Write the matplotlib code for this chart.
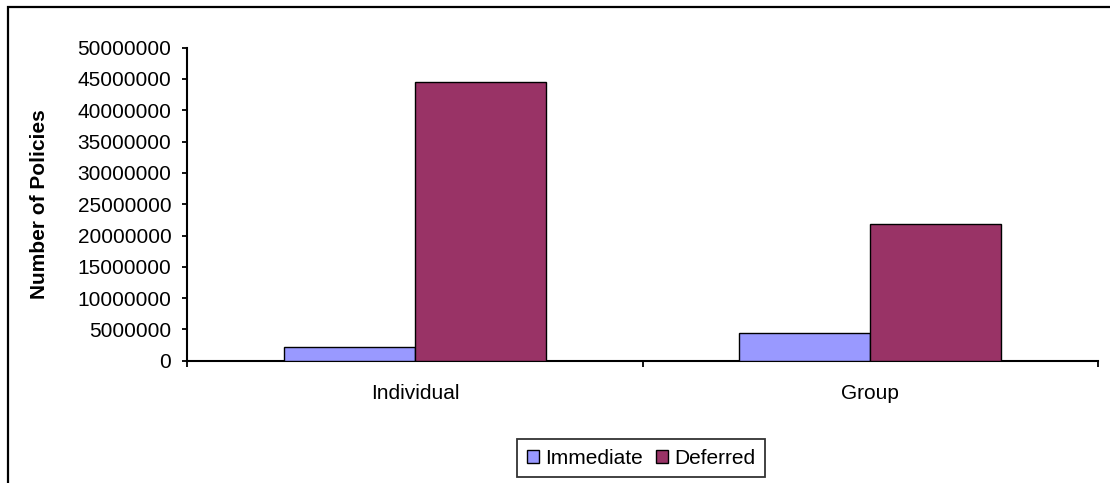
import matplotlib
matplotlib.use("Agg")
import matplotlib.pyplot as plt
from matplotlib.patches import Rectangle, Patch
import numpy as np

plt.rcParams['font.family'] = ['Liberation Sans', 'DejaVu Sans']

categories = ["Individual", "Group"]
series_names = ["Immediate", "Deferred"]
immediate = [2240000, 4470000]
deferred = [44500000, 21800000]
colors = ["#9999FF", "#993366"]
yticks = list(range(0, 50000001, 5000000))

W, H = 1110, 483
fig = plt.figure(figsize=(W / 100, H / 100), dpi=100)
ax = fig.add_axes([187.3 / W, 1 - 360.7 / H, 910.4 / W, 313.0 / H])

x = np.arange(len(categories))
bw = 0.287
ax.bar(x - bw / 2, immediate, bw, color=colors[0], edgecolor="black", linewidth=1.0, zorder=3)
ax.bar(x + bw / 2, deferred, bw, color=colors[1], edgecolor="black", linewidth=1.0, zorder=3)

ax.set_xlim(-0.5, len(categories) - 0.5)
ax.set_ylim(0, 50000000)
ax.set_yticks(yticks)
ax.set_yticklabels([str(v) for v in yticks])

# category labels centred, tick marks between categories
ax.set_xticks(x)
ax.set_xticklabels(categories)
ax.tick_params(axis="x", which="major", length=0, pad=17, labelsize=15)
ax.set_xticks(np.arange(-0.5, len(categories)), minor=True)
ax.tick_params(axis="x", which="minor", length=4, width=1.3, direction="out")
ax.tick_params(axis="y", length=3.5, width=1.3, direction="out", pad=8, labelsize=15)

for s in ["top", "right"]:
    ax.spines[s].set_visible(False)
for s in ["left", "bottom"]:
    ax.spines[s].set_linewidth(1.5)
    ax.spines[s].set_color("black")

ax.set_ylabel("Number of Policies", fontsize=15, fontweight="bold")
ax.yaxis.set_label_coords((49.5 - 187.3) / 910.4, 0.5)

handles = [Patch(facecolor=c, edgecolor="black", linewidth=1.0) for c in colors]
leg = fig.legend(handles, series_names, loc="center",
                 bbox_to_anchor=(641.2 / W, 1 - 458 / H), ncol=2, fontsize=15,
                 frameon=True, fancybox=False, shadow=False,
                 handlelength=0.6, handleheight=0.6, handletextpad=0.3,
                 columnspacing=0.6, borderpad=0.45, borderaxespad=0)
leg.get_frame().set_edgecolor("black")
leg.get_frame().set_linewidth(1.3)

# chart frame
fig.patches.append(Rectangle((7.5 / W, -0.1), 1.2, 1 - 7.5 / H + 0.1,
                             transform=fig.transFigure, fill=False,
                             edgecolor="black", linewidth=1.6))

fig.savefig("out.png", dpi=100)
